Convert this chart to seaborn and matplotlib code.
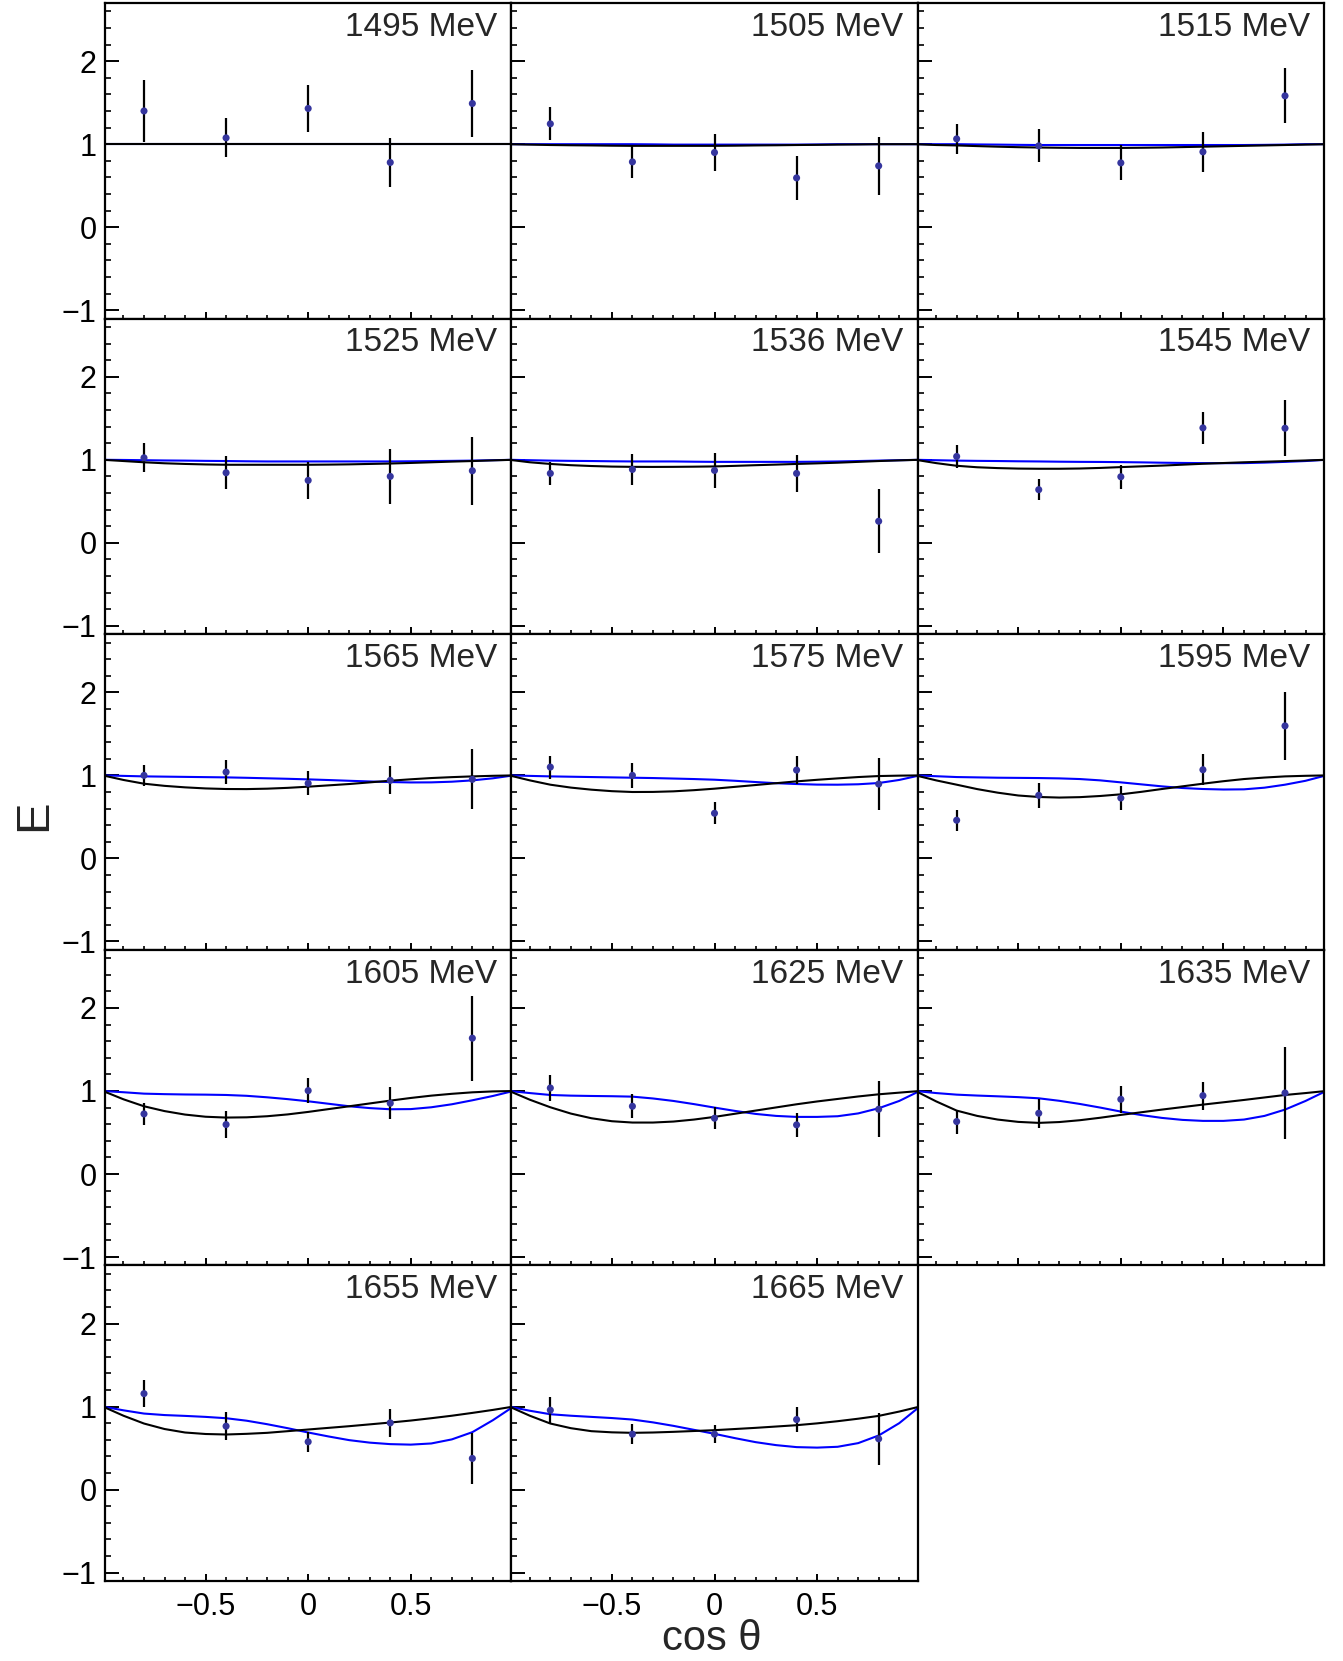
import numpy as np
import pandas as pd
import matplotlib
matplotlib.use("Agg")
import matplotlib.pyplot as plt
import seaborn as sns
from matplotlib.ticker import MultipleLocator, FuncFormatter

# ---------------- data ----------------
energies = [1495, 1505, 1515, 1525, 1536, 1545, 1565, 1575, 1595,
            1605, 1625, 1635, 1655, 1665]

x_points = [-0.8, -0.4, 0.0, 0.4, 0.8]

e_vals = [
    [1.40, 1.076, 1.43, 0.78, 1.49],
    [1.245, 0.787, 0.90, 0.594, 0.739],
    [1.064, 0.98, 0.775, 0.908, 1.582],
    [1.024, 0.844, 0.752, 0.80, 0.868],
    [0.836, 0.884, 0.872, 0.836, 0.26],
    [1.04, 0.64, 0.796, 1.384, 1.38],
    [1.0, 1.04, 0.904, 0.94, 0.952],
    [1.10, 1.0, 0.544, 1.064, 0.896],
    [0.46, 0.76, 0.728, 1.068, 1.596],
    [0.724, 0.596, 1.004, 0.852, 1.636],
    [1.036, 0.816, 0.672, 0.592, 0.78],
    [0.632, 0.732, 0.90, 0.944, 0.976],
    [1.156, 0.764, 0.576, 0.804, 0.376],
    [0.956, 0.668, 0.668, 0.844, 0.612],
]

e_errs = [
    [0.37, 0.235, 0.28, 0.29, 0.40],
    [0.20, 0.19, 0.217, 0.26, 0.35],
    [0.18, 0.20, 0.21, 0.24, 0.33],
    [0.175, 0.20, 0.22, 0.33, 0.41],
    [0.14, 0.19, 0.21, 0.225, 0.385],
    [0.136, 0.13, 0.144, 0.196, 0.336],
    [0.13, 0.142, 0.146, 0.17, 0.36],
    [0.138, 0.146, 0.134, 0.17, 0.316],
    [0.128, 0.152, 0.14, 0.184, 0.408],
    [0.13, 0.166, 0.154, 0.194, 0.512],
    [0.156, 0.146, 0.13, 0.144, 0.338],
    [0.144, 0.176, 0.16, 0.17, 0.55],
    [0.16, 0.166, 0.124, 0.165, 0.312],
    [0.16, 0.124, 0.112, 0.148, 0.316],
]

x_curve = [-1.0, -0.9, -0.8, -0.7, -0.6, -0.5, -0.4, -0.3, -0.2, -0.1, 0.0,
           0.1, 0.2, 0.3, 0.4, 0.5, 0.6, 0.7, 0.8, 0.9, 1.0]

blue_curves = [
    [1.00, 1.00, 1.00, 1.00, 1.00, 1.00, 1.00, 1.00, 1.00, 1.00, 1.00,
     1.00, 1.00, 1.00, 1.00, 1.00, 1.00, 1.00, 1.00, 1.00, 1.00],
    [1.00, 1.00, 1.00, 1.00, 1.00, 1.00, 1.00, 0.998, 0.995, 0.995, 0.995,
     0.995, 0.995, 0.995, 0.995, 0.997, 1.00, 1.00, 1.00, 1.00, 1.00],
    [1.00, 1.00, 1.00, 0.997, 0.995, 0.992, 0.99, 0.99, 0.99, 0.99, 0.99,
     0.99, 0.99, 0.99, 0.99, 0.99, 0.99, 0.992, 0.995, 1.00, 1.00],
    [1.00, 0.998, 0.995, 0.992, 0.99, 0.987, 0.985, 0.982, 0.98, 0.98, 0.98,
     0.98, 0.98, 0.98, 0.98, 0.982, 0.985, 0.987, 0.99, 0.995, 1.00],
    [1.00, 0.995, 0.99, 0.987, 0.985, 0.982, 0.98, 0.98, 0.98, 0.977, 0.975,
     0.975, 0.975, 0.975, 0.975, 0.977, 0.98, 0.985, 0.99, 0.995, 1.00],
    [1.00, 0.995, 0.99, 0.987, 0.985, 0.982, 0.98, 0.977, 0.975, 0.974, 0.972,
     0.969, 0.965, 0.962, 0.96, 0.959, 0.96, 0.966, 0.975, 0.985, 1.00],
    [1.00, 0.994, 0.988, 0.985, 0.982, 0.979, 0.976, 0.971, 0.965, 0.959, 0.952,
     0.944, 0.935, 0.927, 0.92, 0.915, 0.916, 0.924, 0.94, 0.965, 1.00],
    [1.00, 0.994, 0.988, 0.984, 0.98, 0.976, 0.972, 0.968, 0.962, 0.956, 0.948,
     0.935, 0.92, 0.906, 0.896, 0.889, 0.888, 0.893, 0.908, 0.945, 1.00],
    [1.00, 0.99, 0.98, 0.976, 0.972, 0.97, 0.968, 0.964, 0.956, 0.94, 0.916,
     0.892, 0.868, 0.848, 0.836, 0.83, 0.832, 0.852, 0.888, 0.935, 1.00],
    [1.00, 0.985, 0.968, 0.962, 0.958, 0.956, 0.952, 0.942, 0.924, 0.902, 0.876,
     0.846, 0.816, 0.794, 0.78, 0.782, 0.804, 0.84, 0.888, 0.94, 1.00],
    [1.00, 0.975, 0.952, 0.944, 0.94, 0.937, 0.932, 0.91, 0.88, 0.842, 0.80,
     0.76, 0.724, 0.70, 0.688, 0.688, 0.696, 0.73, 0.792, 0.88, 1.00],
    [1.00, 0.975, 0.956, 0.945, 0.936, 0.926, 0.912, 0.882, 0.844, 0.80, 0.752,
     0.71, 0.676, 0.652, 0.64, 0.64, 0.656, 0.70, 0.776, 0.88, 1.00],
    [1.00, 0.955, 0.916, 0.898, 0.888, 0.876, 0.86, 0.83, 0.788, 0.74, 0.688,
     0.64, 0.596, 0.566, 0.548, 0.542, 0.556, 0.605, 0.692, 0.836, 1.00],
    [1.00, 0.95, 0.908, 0.89, 0.876, 0.862, 0.844, 0.81, 0.768, 0.72, 0.672,
     0.62, 0.572, 0.536, 0.512, 0.506, 0.516, 0.56, 0.652, 0.80, 1.00],
]

black_curves = [
    [1.00, 1.00, 1.00, 1.00, 1.00, 1.00, 1.00, 1.00, 1.00, 1.00, 1.00,
     1.00, 1.00, 1.00, 1.00, 1.00, 1.00, 1.00, 1.00, 1.00, 1.00],
    [1.00, 0.995, 0.99, 0.987, 0.985, 0.982, 0.98, 0.98, 0.98, 0.98, 0.98,
     0.982, 0.985, 0.987, 0.99, 0.992, 0.995, 0.997, 1.00, 1.00, 1.00],
    [1.00, 0.99, 0.985, 0.977, 0.97, 0.964, 0.96, 0.957, 0.955, 0.955, 0.955,
     0.957, 0.96, 0.965, 0.97, 0.975, 0.98, 0.985, 0.99, 0.995, 1.00],
    [1.00, 0.985, 0.97, 0.958, 0.95, 0.944, 0.94, 0.94, 0.94, 0.94, 0.94,
     0.942, 0.945, 0.95, 0.955, 0.962, 0.97, 0.978, 0.985, 0.993, 1.00],
    [1.00, 0.97, 0.95, 0.935, 0.925, 0.918, 0.915, 0.914, 0.915, 0.917, 0.92,
     0.927, 0.935, 0.942, 0.95, 0.957, 0.965, 0.975, 0.985, 0.993, 1.00],
    [1.00, 0.96, 0.928, 0.91, 0.90, 0.894, 0.892, 0.892, 0.895, 0.902, 0.912,
     0.921, 0.93, 0.941, 0.952, 0.961, 0.97, 0.977, 0.984, 0.992, 1.00],
    [1.00, 0.945, 0.90, 0.874, 0.856, 0.843, 0.836, 0.835, 0.84, 0.85, 0.864,
     0.88, 0.896, 0.916, 0.936, 0.953, 0.968, 0.979, 0.988, 0.995, 1.00],
    [1.00, 0.94, 0.888, 0.853, 0.828, 0.81, 0.80, 0.801, 0.808, 0.822, 0.84,
     0.862, 0.884, 0.906, 0.928, 0.947, 0.964, 0.98, 0.992, 0.997, 1.00],
    [1.00, 0.94, 0.888, 0.835, 0.792, 0.758, 0.74, 0.733, 0.738, 0.752, 0.772,
     0.802, 0.836, 0.868, 0.90, 0.93, 0.956, 0.974, 0.988, 0.995, 1.00],
    [1.00, 0.90, 0.816, 0.758, 0.716, 0.69, 0.68, 0.683, 0.696, 0.718, 0.748,
     0.782, 0.816, 0.85, 0.884, 0.916, 0.944, 0.966, 0.984, 0.995, 1.00],
    [1.00, 0.895, 0.804, 0.728, 0.672, 0.636, 0.62, 0.62, 0.632, 0.656, 0.688,
     0.726, 0.764, 0.802, 0.84, 0.874, 0.904, 0.934, 0.96, 0.98, 1.00],
    [1.00, 0.875, 0.764, 0.70, 0.656, 0.628, 0.616, 0.626, 0.648, 0.678, 0.712,
     0.744, 0.776, 0.806, 0.836, 0.864, 0.892, 0.922, 0.952, 0.975, 1.00],
    [1.00, 0.89, 0.796, 0.73, 0.688, 0.67, 0.664, 0.672, 0.684, 0.704, 0.724,
     0.744, 0.764, 0.786, 0.808, 0.832, 0.86, 0.89, 0.924, 0.96, 1.00],
    [1.00, 0.89, 0.796, 0.74, 0.704, 0.69, 0.684, 0.688, 0.696, 0.706, 0.716,
     0.73, 0.744, 0.76, 0.776, 0.798, 0.824, 0.854, 0.888, 0.94, 1.00],
]

# ---------------- style ----------------
sns.set_theme(style="ticks")
plt.rcParams["font.family"] = ["Liberation Sans", "DejaVu Sans"]
plt.rcParams["axes.edgecolor"] = "black"
plt.rcParams["axes.linewidth"] = 1.6
plt.rcParams["xtick.color"] = "black"
plt.rcParams["ytick.color"] = "black"

W, H = 1343, 1661
fig = plt.figure(figsize=(W / 100, H / 100), dpi=100)
gs = fig.add_gridspec(5, 3, left=105 / W, right=1324 / W,
                      top=1 - 3 / H, bottom=1 - 1581 / H,
                      hspace=0, wspace=0)

fmt = FuncFormatter(lambda v, p: f"{v:g}".replace("-", "\u2212"))

for i, en in enumerate(energies):
    r, c = divmod(i, 3)
    ax = fig.add_subplot(gs[r, c])
    n = len(x_curve)
    dfc = pd.DataFrame({
        "x": x_curve + x_curve,
        "E": blue_curves[i] + black_curves[i],
        "model": ["blue"] * n + ["black"] * n,
    })
    sns.lineplot(data=dfc, x="x", y="E", hue="model",
                 hue_order=["blue", "black"],
                 palette={"blue": "#0000ff", "black": "black"},
                 linewidth=1.5, estimator=None, sort=False,
                 legend=False, ax=ax)
    ax.errorbar(x_points, e_vals[i], yerr=e_errs[i], fmt="none",
                ecolor="black", elinewidth=1.6, capsize=0, zorder=4)
    sns.scatterplot(x=x_points, y=e_vals[i], color="#35359e", s=26,
                    edgecolor="none", ax=ax, zorder=5)

    ax.set_xlim(-0.99, 0.99)
    ax.set_ylim(-1.1, 2.7)
    ax.set_xlabel("")
    ax.set_ylabel("")
    ax.xaxis.set_major_locator(MultipleLocator(0.5))
    ax.xaxis.set_minor_locator(MultipleLocator(0.1))
    ax.yaxis.set_major_locator(MultipleLocator(1))
    ax.yaxis.set_minor_locator(MultipleLocator(0.2))
    ax.xaxis.set_major_formatter(fmt)
    ax.yaxis.set_major_formatter(fmt)

    ax.tick_params(axis="y", which="major", direction="in", length=10, width=1.4,
                   left=True, right=False, labelsize=22, pad=6,
                   labelleft=(c == 0))
    ax.tick_params(axis="y", which="minor", direction="in", length=4.5, width=1.2,
                   left=True, right=False)
    ax.tick_params(axis="x", which="major", direction="in", length=5, width=1.4,
                   bottom=True, top=False, labelsize=22, pad=8,
                   labelbottom=(r == 4))
    ax.tick_params(axis="x", which="minor", direction="in", length=3, width=1.2,
                   bottom=True, top=False)
    for s in ax.spines.values():
        s.set_visible(True)
        s.set_linewidth(1.6)
        s.set_color("black")

    ax.text(0.965, 0.972, f"{en} MeV", transform=ax.transAxes,
            ha="right", va="top", fontsize=24)

fig.text(34 / W, 1 - 815 / H, "E", rotation=90, fontsize=34,
         ha="center", va="center")
fig.text(712 / W, 1 - 1650 / H, "cos θ", fontsize=30,
         ha="center", va="baseline")

fig.savefig("out.png", dpi=100)
